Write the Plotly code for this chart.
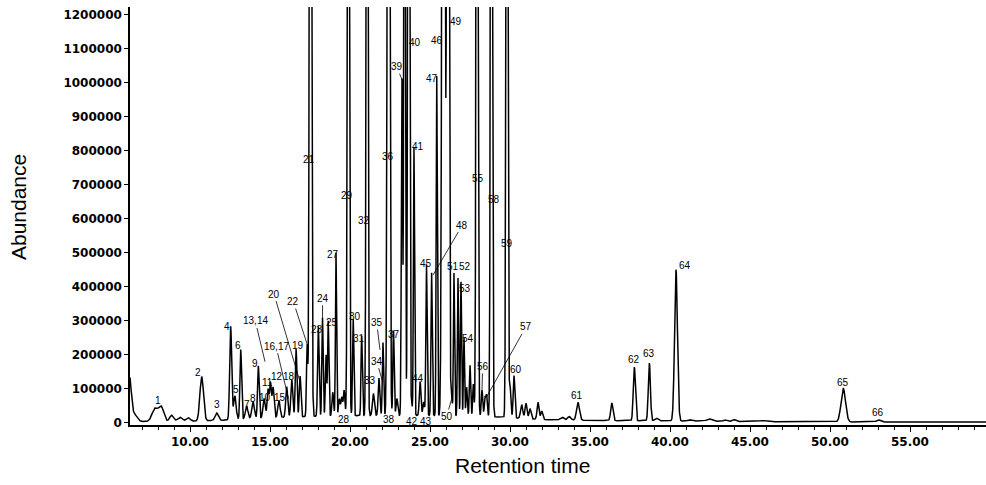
import numpy as np
import plotly.graph_objects as go

# ---- data (retention time in min, abundance, peak sigma in min)
peak_times = [6.22, 6.45, 7.81, 8.20, 8.85, 9.38, 9.90, 10.73, 11.67, 12.54, 12.80, 13.17, 13.54, 13.94,
              14.27, 14.63, 14.88, 15.03, 15.19, 15.56, 16.04, 16.36, 16.63, 16.88, 17.32, 17.53, 18.02,
              18.28, 18.50, 18.64, 18.92, 19.125, 19.33, 19.48, 19.63, 19.90, 20.20, 20.73, 21.06, 21.46,
              21.81, 22.06, 22.41, 22.72, 22.93, 23.25, 23.41, 23.67, 23.85, 24.00, 24.38, 24.60, 24.78,
              25.10, 25.42, 25.84, 26.12, 26.34, 26.50, 26.75, 26.94, 27.125, 27.29, 27.50, 27.71, 27.94,
              28.25, 28.44, 28.54, 28.84, 29.81, 30.00, 30.25, 30.73, 31.00, 31.25, 31.75, 31.98, 33.25,
              33.70, 34.25, 36.36, 37.77, 38.71, 39.15, 40.375, 41.25, 42.44, 43.44, 44.00, 45.81, 50.83,
              53.02]
peak_heights = [120000, 25000, 38000, 42000, 18000, 12000, 10000, 130000, 22000, 275000, 70000, 205000,
                38000, 50000, 155000, 58000, 85000, 100000, 90000, 50000, 90000, 110000, 200000, 120000,
                210000, 4000000, 265000, 290000, 180000, 280000, 70000, 480000, 50000, 55000, 75000,
                3500000, 285000, 235000, 3000000, 65000, 110000, 215000, 4500000, 250000, 50000, 990000,
                3000000, 4000000, 30000, 790000, 100000, 40000, 445000, 420000, 1000000, 5000000, 4500000,
                60000, 420000, 405000, 395000, 230000, 85000, 150000, 95000, 3500000, 78000, 58000, 60000,
                3500000, 3500000, 95000, 125000, 40000, 45000, 30000, 50000, 25000, 8000, 10000, 52000,
                52000, 158000, 170000, 8000, 445000, 4000, 7000, 4000, 5000, 3000, 98000, 6000]
peak_sigmas = [0.10, 0.20, 0.18, 0.15, 0.12, 0.15, 0.12, 0.11, 0.10, 0.06, 0.08, 0.05, 0.08, 0.08,
               0.05, 0.07, 0.06, 0.05, 0.06, 0.07, 0.06, 0.06, 0.05, 0.05, 0.04, 0.055, 0.045,
               0.04, 0.04, 0.04, 0.05, 0.035, 0.05, 0.05, 0.05, 0.05, 0.04, 0.04, 0.045, 0.06,
               0.05, 0.04, 0.06, 0.04, 0.05, 0.04, 0.04, 0.05, 0.05, 0.035, 0.05, 0.05, 0.04,
               0.04, 0.035, 0.07, 0.06, 0.05, 0.035, 0.035, 0.035, 0.035, 0.04, 0.04, 0.04, 0.05,
               0.045, 0.045, 0.04, 0.05, 0.05, 0.05, 0.05, 0.07, 0.06, 0.06, 0.06, 0.06, 0.10,
               0.10, 0.09, 0.07, 0.065, 0.065, 0.10, 0.09, 0.12, 0.15, 0.10, 0.10, 0.20, 0.14,
               0.12]
baseline_times = [6.25, 10, 12, 15, 18, 22, 26, 29, 32, 36, 40, 46, 52, 59.75]
baseline_levels = [4000, 5000, 8000, 15000, 20000, 22000, 22000, 18000, 10000, 7000, 6000, 4000, 3000, 2500]

# peak numbers: text, label time, label abundance
label_texts = ["1", "2", "3", "4", "5", "6", "7", "8", "9", "10", "11", "12", "15", "18", "19", "21",
               "23", "25", "27", "28", "29", "30", "31", "32", "33", "36", "37", "38", "40", "41",
               "42", "43", "44", "45", "46", "47", "49", "51", "52", "53", "54", "55", "58", "59",
               "60", "61", "62", "63", "64", "65", "66"]
label_times = [8.02, 10.52, 11.67, 12.29, 12.875, 12.98, 13.54, 13.92, 14.08, 14.69, 14.83, 15.42, 15.625,
               16.21, 16.73, 17.46, 17.92, 18.85, 18.96, 19.625, 19.79, 20.31, 20.58, 20.875, 21.25, 22.40,
               22.75, 22.46, 24.06, 24.27, 23.85, 24.75, 24.27, 24.75, 25.42, 25.15, 26.625, 26.46, 27.19,
               27.19, 27.40, 27.98, 29.00, 29.79, 30.375, 34.17, 37.77, 38.69, 40.94, 50.79, 53.02]
label_values = [66000, 148000, 55000, 285000, 97000, 227000, 53000, 71000, 176000, 74000, 118000, 138000,
                74000, 138000, 229000, 776000, 274000, 295000, 496000, 9000, 668000, 313000, 249000, 595000,
                126000, 783000, 259000, 9000, 1120000, 813000, 4000, 4000, 131000, 470000, 1126000, 1012000,
                1180000, 460000, 460000, 396000, 249000, 718000, 656000, 528000, 158000, 82000, 187000,
                203000, 462000, 119000, 31000]

# peak numbers with leader lines: text, label position, target position
leader_texts = ["13,14", "16,17", "20", "22", "24", "34", "35", "39", "48", "50", "56", "57"]
leader_label_times = [14.08, 15.375, 15.25, 16.46, 18.29, 21.67, 21.67, 22.92, 27.02, 26.04, 28.29, 31.00]
leader_label_values = [300000, 226000, 379000, 357000, 367000, 182000, 295000, 1048000, 582000, 19000,
                       166000, 283000]
leader_target_times = [14.69, 16.15, 16.875, 17.34, 18.28, 22.04, 21.875, 23.31, 25.19, 26.375, 28.25, 28.54]
leader_target_values = [180000, 72000, 121000, 229000, 309000, 121000, 215000, 1003000, 435000, 74000,
                        97000, 77000]

x_tick_values = [10, 15, 20, 25, 30, 35, 40, 45, 50, 55]
y_tick_values = list(range(0, 1200001, 100000))

# ---- build trace from the peak table
t = np.arange(6.25, 59.76, 0.004)
signal = np.interp(t, baseline_times, baseline_levels)
for tc, h, s in zip(peak_times, peak_heights, peak_sigmas):
    signal = signal + h * np.exp(-0.5 * ((t - tc) / s) ** 2)

fig = go.Figure()
fig.add_trace(go.Scatter(x=t, y=signal, mode="lines",
                         line=dict(color="black", width=1.5), hoverinfo="skip", showlegend=False))

label_font = dict(family="Liberation Sans, Arial, sans-serif", size=10, color="black")
annotations = []
for txt, lx, ly in zip(label_texts, label_times, label_values):
    annotations.append(dict(x=lx, y=ly, xref="x", yref="y", text=txt, showarrow=False,
                            font=label_font, xanchor="center", yanchor="middle"))
for txt, lx, ly, tx, ty in zip(leader_texts, leader_label_times, leader_label_values,
                               leader_target_times, leader_target_values):
    annotations.append(dict(x=tx, y=ty, ax=lx, ay=ly, xref="x", yref="y", axref="x", ayref="y",
                            text=txt, showarrow=True, arrowhead=0, arrowwidth=0.8, arrowcolor="black",
                            font=label_font, standoff=0, startstandoff=0))

title_font = dict(family="Liberation Sans, Arial, sans-serif", size=21, color="black")
annotations.append(dict(x=-0.1308, y=0.5215, xref="paper", yref="paper", text="Abundance",
                        textangle=-90, showarrow=False, font=title_font,
                        xanchor="center", yanchor="middle"))
annotations.append(dict(x=0.458, y=-0.098, xref="paper", yref="paper", text="Retention time",
                        showarrow=False, font=title_font, xanchor="center", yanchor="middle"))

tick_font = dict(family="DejaVu Sans, sans-serif", size=12, color="black", weight="bold")
fig.update_layout(
    width=986, height=485,
    margin=dict(l=130, r=0, t=7, b=60, autoexpand=False),
    paper_bgcolor="white", plot_bgcolor="white",
    annotations=annotations,
    xaxis=dict(range=[6.25, 59.75], tickvals=x_tick_values,
               ticktext=[f"{v:.2f}" for v in x_tick_values], automargin=False,
               ticks="outside", ticklen=5, tickwidth=1, tickcolor="black",
               showline=True, linecolor="black", linewidth=2, showgrid=False, zeroline=False,
               tickfont=tick_font,
               minor=dict(tick0=0, dtick=1, ticks="outside", ticklen=3, tickcolor="black", showgrid=False)),
    yaxis=dict(range=[-6000, 1223500], tickvals=y_tick_values,
               ticktext=[str(v) for v in y_tick_values], automargin=False,
               ticks="outside", ticklen=4, tickwidth=1, tickcolor="black",
               showline=True, linecolor="black", linewidth=1.5, showgrid=False, zeroline=False,
               tickfont=tick_font),
)

fig.write_html("out.html", config={"displayModeBar": False},
               post_script="document.body.style.margin='0';document.body.style.overflow='hidden';")
